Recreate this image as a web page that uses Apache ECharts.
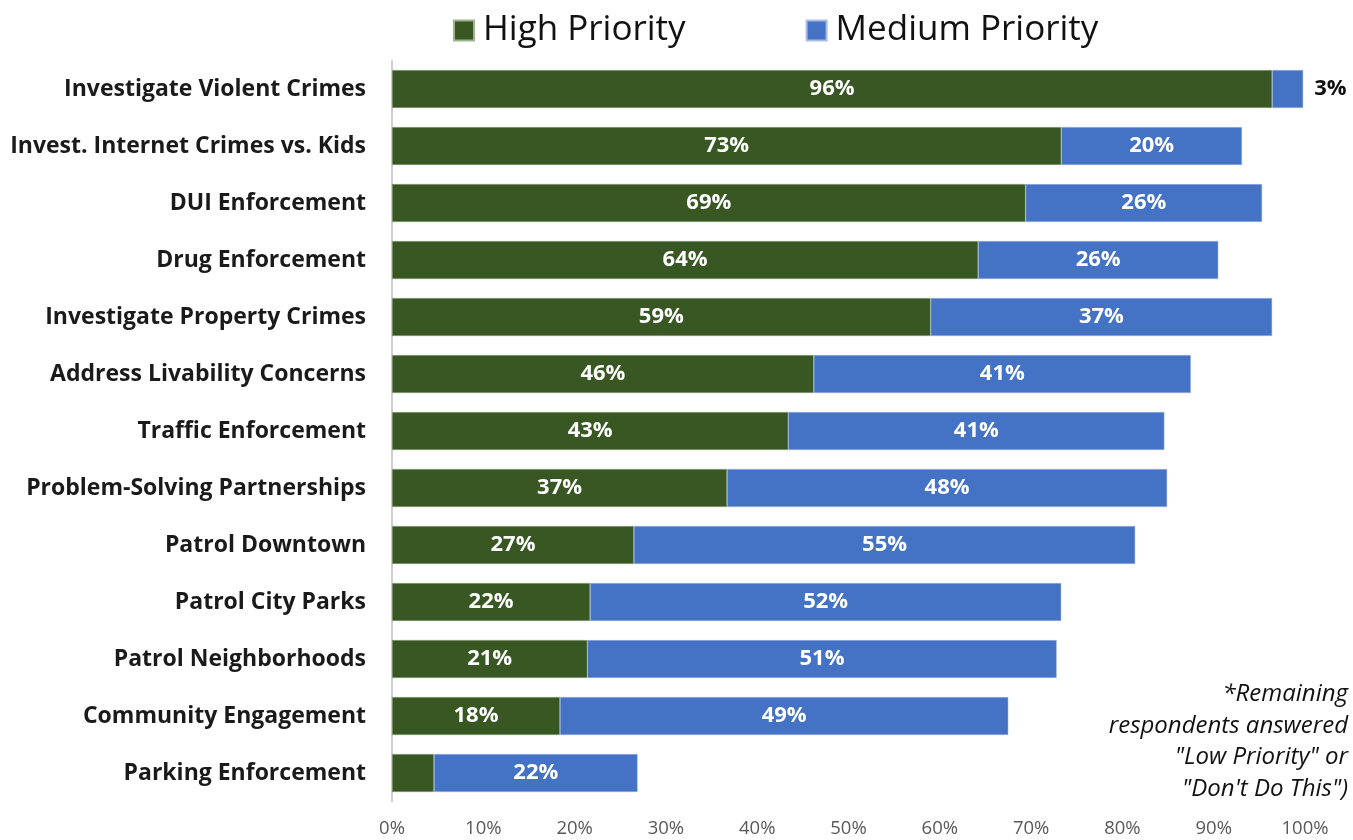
<!DOCTYPE html>
<html><head><meta charset="utf-8">
<script src="https://cdn.jsdelivr.net/npm/echarts@6/dist/echarts.min.js"></script>
<style>html,body{margin:0;padding:0;background:#fff}#c{width:1353px;height:840px}</style>
</head><body><div id="c"></div>
<script>
const categories = ["Investigate Violent Crimes","Invest. Internet Crimes vs. Kids","DUI Enforcement","Drug Enforcement","Investigate Property Crimes","Address Livability Concerns","Traffic Enforcement","Problem-Solving Partnerships","Patrol Downtown","Patrol City Parks","Patrol Neighborhoods","Community Engagement","Parking Enforcement"];
const highPriority = [96.4, 73.3, 69.4, 64.2, 59.0, 46.2, 43.4, 36.7, 26.5, 21.7, 21.4, 18.4, 4.6];
const mediumPriority = [3.4, 19.8, 25.9, 26.3, 37.4, 41.3, 41.2, 48.2, 54.9, 51.6, 51.4, 49.1, 22.3];
const xTicks = [0,10,20,30,40,50,60,70,80,90,100];
const noteLines = ["*Remaining","respondents answered","\"Low Priority\" or","\"Don't Do This\")"];
const FONT = "'Open Sans', sans-serif";

const chart = echarts.init(document.getElementById('c'));
chart.setOption({
  animation: false,
  textStyle: {fontFamily: FONT},
  legend: {
    top: 8, left: 448, itemGap: 120, itemWidth: 20, itemHeight: 20,
    icon: 'rect',
    textStyle: {fontSize: 35, color: '#111', fontFamily: FONT, padding: [0,0,0,4]},
    data: ['High Priority','Medium Priority']
  },
  grid: {left: 392, right: 48, top: 60.5, bottom: 38.5, containLabel: false},
  xAxis: {
    type: 'value', min: 0, max: 100, interval: 10,
    axisLine: {show: false}, axisTick: {show: false},
    splitLine: {show: false},
    axisLabel: {formatter: v => v + '%', color: '#595959', fontSize: 18.5, margin: 18, fontFamily: FONT}
  },
  yAxis: {
    type: 'category', data: categories, inverse: true,
    axisLine: {show: true, lineStyle: {color: '#d0d0d0', width: 2}},
    axisTick: {show: false},
    axisLabel: {color: '#1a1a1a', fontSize: 23, fontWeight: 'bold', margin: 26, fontFamily: FONT}
  },
  series: [
    {
      name: 'High Priority', type: 'bar', stack: 'p', barWidth: 38,
      itemStyle: {color: '#385723', borderColor: '#9db38f', borderWidth: 0.5},
      label: {
        show: true, position: 'inside', color: '#fff', fontWeight: 'bold', fontSize: 22, fontFamily: FONT,
        formatter: p => p.value < 8 ? '' : Math.round(p.value) + '%'
      },
      data: highPriority
    },
    {
      name: 'Medium Priority', type: 'bar', stack: 'p', barWidth: 38,
      itemStyle: {color: '#4472c4', borderColor: '#a9bde3', borderWidth: 0.5},
      label: {
        show: true, position: 'inside', color: '#fff', fontWeight: 'bold', fontSize: 22, fontFamily: FONT,
        formatter: p => Math.round(p.value) + '%'
      },
      data: mediumPriority.map(v => v < 8 ? {value: v, label: {position: 'right', color: '#111', distance: 11}} : v)
    }
  ],
  graphic: noteLines.map((t, i) => ({
    type: 'text', x: 1348, y: 694 + i * 31.8,
    style: {
      text: t, align: 'right', verticalAlign: 'middle', fill: '#111',
      font: "italic 24px " + FONT
    }
  }))
});
</script></body></html>
